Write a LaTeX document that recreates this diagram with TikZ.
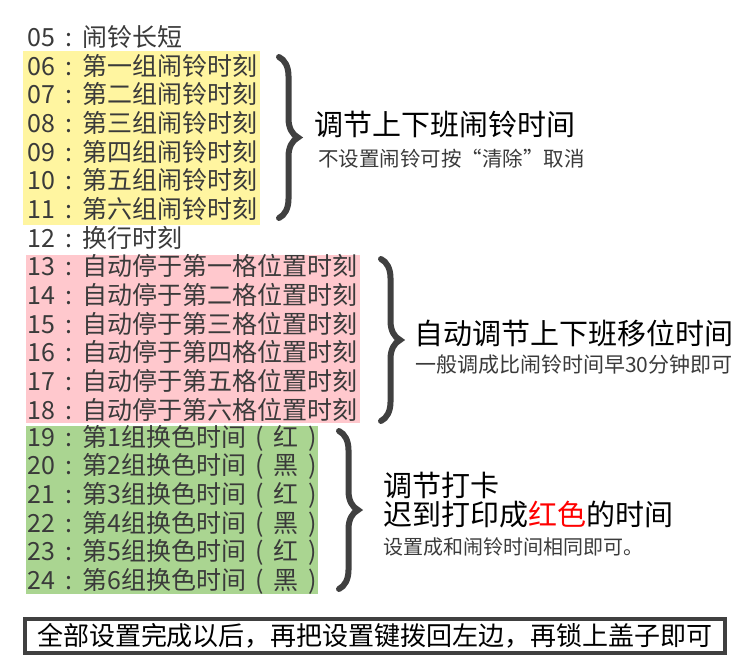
\documentclass[tikz,border=0pt]{standalone}
\usepackage{fontspec}
\setmainfont{Noto Sans CJK SC}
\usetikzlibrary{decorations.pathreplacing}
\definecolor{clkyellow}{RGB}{255, 245, 160}
\definecolor{clkpink}{RGB}{255, 200, 205}
\definecolor{clkgreen}{RGB}{170, 213, 145}
\definecolor{clkgray}{RGB}{58, 58, 58}
\definecolor{clkbrace}{RGB}{64, 64, 64}
\newcommand{\cella}[1]{\makebox[1.1em]{#1}}

\begin{document}
\begin{tikzpicture}[x=1pt, y=-1pt,
    riga/.style={anchor=west, inner sep=0pt, text=clkgray, font=\fontsize{25}{25}\selectfont},
    titolo/.style={anchor=west, inner sep=0pt, text=black, font=\fontsize{29}{29}\selectfont},
    nota/.style={anchor=west, inner sep=0pt, text=clkgray, font=\fontsize{20.5}{20.5}\selectfont},
    graffa/.style={draw=clkbrace, line width=6pt, line cap=round, decorate, decoration={brace, amplitude=19pt}}]
    \useasboundingbox (0,0) rectangle (750,669);

    % Sfondi
    \fill[clkyellow] (23,51.5) rectangle (260,224.5);
    \fill[clkpink] (26,255) rectangle (360,423);
    \fill[clkgreen] (26,426) rectangle (318,593.5);

    % Righe
    \foreach \n/\t [count=\i from 0] in {05/闹铃长短, 06/第一组闹铃时刻, 07/第二组闹铃时刻,
        08/第三组闹铃时刻, 09/第四组闹铃时刻, 10/第五组闹铃时刻, 11/第六组闹铃时刻,
        12/换行时刻, 13/自动停于第一格位置时刻, 14/自动停于第二格位置时刻,
        15/自动停于第三格位置时刻, 16/自动停于第四格位置时刻, 17/自动停于第五格位置时刻,
        18/自动停于第六格位置时刻, 19/第1组换色时间\cella{(}红\cella{)}, 20/第2组换色时间\cella{(}黑\cella{)},
        21/第3组换色时间\cella{(}红\cella{)}, 22/第4组换色时间\cella{(}黑\cella{)},
        23/第5组换色时间\cella{(}红\cella{)}, 24/第6组换色时间\cella{(}黑\cella{)}}
        \node[riga] (r\n) at (27,{37+\i*28.65}) {\n\cella{:}\t};

    % Graffe
    \coordinate (g1a) at (279,57);
    \coordinate (g1b) at (279,218);
    \coordinate (g2a) at (381,259);
    \coordinate (g2b) at (381,421);
    \coordinate (g3a) at (339,431);
    \coordinate (g3b) at (339,589);
    \draw[graffa] (g1a) -- (g1b);
    \draw[graffa] (g2a) -- (g2b);
    \draw[graffa] (g3a) -- (g3b);

    % Sveglie
    \node[titolo] (tit1) at (314,124) {调节上下班闹铃时间};
    \node[nota] (nota1) at (318,159) {不设置闹铃可按“清除”取消};

    % Spostamento
    \node[titolo] (tit2) at (414,333) {自动调节上下班移位时间};
    \node[nota, font=\fontsize{21}{21}\selectfont] (nota2) at (415,365) {一般调成比闹铃时间早30分钟即可};

    % Timbratura
    \node[titolo] (tit3a) at (383,485) {调节打卡};
    \node[titolo] (tit3b) at (383,515) {迟到打印成{\color{red}红色}的时间};
    \node[nota, font=\fontsize{20}{20}\selectfont] (nota3) at (383,547) {设置成和闹铃时间相同即可。};

    % Nota finale
    \node[draw=clkbrace, line width=4.5pt, minimum width=700pt, minimum height=34pt, inner sep=0pt,
        font=\fontsize{26}{26}\selectfont] (fine) at (375,636) {全部设置完成以后，再把设置键拨回左边，再锁上盖子即可};
\end{tikzpicture}
\end{document}
